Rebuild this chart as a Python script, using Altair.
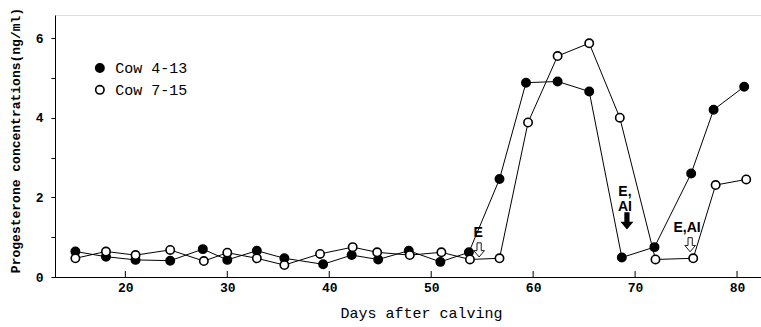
import altair as alt
import pandas as pd

# Cow 4-13 (filled circles)
days_a = [15.1, 18.1, 21.0, 24.4, 27.6, 30.0, 32.9, 35.6, 39.4, 42.2, 44.8, 47.8,
          50.9, 53.7, 56.7, 59.3, 62.4, 65.5, 68.7, 71.9, 75.5, 77.7, 80.7]
prog_a = [0.64, 0.51, 0.43, 0.41, 0.70, 0.43, 0.66, 0.47, 0.32, 0.55, 0.44, 0.66,
          0.38, 0.62, 2.46, 4.88, 4.91, 4.66, 0.49, 0.75, 2.60, 4.20, 4.78]
# Cow 7-15 (open circles)
days_b = [15.1, 18.1, 21.0, 24.4, 27.7, 30.0, 32.9, 35.6, 39.1, 42.3, 44.7, 47.9,
          51.0, 53.8, 56.7, 59.5, 62.4, 65.5, 68.5, 72.0, 75.7, 77.9, 80.9]
prog_b = [0.47, 0.64, 0.55, 0.68, 0.40, 0.61, 0.47, 0.30, 0.58, 0.75, 0.62, 0.55,
          0.62, 0.44, 0.47, 3.88, 5.55, 5.87, 4.00, 0.44, 0.47, 2.31, 2.45]
series = ["Cow 4-13", "Cow 7-15"]

x_ticks = [20, 30, 40, 50, 60, 70, 80]

# legend (placed in data coordinates)
legend_x = [17.5, 17.5]
legend_y = [5.25, 4.70]
legend_text_x = [19.0, 19.0]

# annotations
ann_text = ["E", "E,", "AI", "E,AI"]
ann_x = [54.6, 69.0, 69.0, 75.1]
ann_y = [1.10, 2.14, 1.77, 1.23]
arrow_x = [54.7, 69.2, 75.4]
arrow_y = [0.68, 1.41, 0.81]
arrow_fill = ["hollow", "solid", "hollow"]

rows = []
for d, p in zip(days_a, prog_a):
    rows.append({"day": d, "p": p, "cow": series[0]})
for d, p in zip(days_b, prog_b):
    rows.append({"day": d, "p": p, "cow": series[1]})
df = pd.DataFrame(rows)

xs = alt.Scale(domain=[13.1, 82.35], nice=False, zero=False)
ys = alt.Scale(domain=[0, 6.58], nice=False)

MONO = "Liberation Mono"

x_enc = alt.X("day:Q", scale=xs, title="Days after calving",
              axis=alt.Axis(values=x_ticks, ticks=False, grid=False, domainColor="black",
                            labelFont=MONO, labelFontSize=13, labelFontWeight="bold",
                            labelColor="black", labelPadding=4,
                            titleFont=MONO, titleFontSize=15, titleFontWeight="normal",
                            titleColor="black", titleX=366, titleY=35,
                            titleBaseline="middle"))
y_enc = alt.Y("p:Q", scale=ys, title="Progesterone concentrations(ng/ml)",
              axis=alt.Axis(values=[0, 1, 2, 3, 4, 5, 6], grid=False, tickSize=4,
                            tickColor="black", domainColor="black",
                            labelExpr="datum.value % 2 == 0 ? datum.label : ''",
                            labelFont=MONO, labelFontSize=13, labelFontWeight="bold",
                            labelColor="black", labelPadding=8,
                            titleFont=MONO, titleFontSize=13, titleFontWeight="bold",
                            titleColor="black", titleX=-40, titleY=125,
                            titleBaseline="middle", titleAlign="center", titleAngle=-90))

lines = alt.Chart(df).mark_line(color="black", strokeWidth=1).encode(
    x=x_enc, y=y_enc, detail="cow:N",
    strokeWidth=alt.StrokeWidth("cow:N", scale=alt.Scale(domain=series, range=[1.1, 0.8]), legend=None),
)

fill_scale = alt.Scale(domain=series, range=["black", "white"])

points = alt.Chart(df).mark_point(shape="circle", filled=True, stroke="black",
                                  strokeWidth=1.6, size=70, opacity=1).encode(
    x="day:Q", y="p:Q",
    fill=alt.Fill("cow:N", scale=fill_scale, legend=None),
)

leg_df = pd.DataFrame({"day": legend_x, "p": legend_y, "tx": legend_text_x, "cow": series})
leg_pts = alt.Chart(leg_df).mark_point(shape="circle", filled=True, stroke="black",
                                       strokeWidth=1.6, size=70, opacity=1).encode(
    x="day:Q", y="p:Q", fill=alt.Fill("cow:N", scale=fill_scale, legend=None))
leg_txt = alt.Chart(leg_df).mark_text(font=MONO, fontSize=15, color="black", align="left",
                                      baseline="middle").encode(
    x="tx:Q", y="p:Q", text="cow:N")

# x ticks pointing inward
tick_df = pd.DataFrame({"day": x_ticks})
xticks = alt.Chart(tick_df).mark_rule(color="black", strokeWidth=1).encode(
    x="day:Q", y=alt.value(262), y2=alt.value(256))

ann_df = pd.DataFrame({"day": ann_x, "p": ann_y, "t": ann_text})
texts = alt.Chart(ann_df).mark_text(font="Liberation Sans", fontWeight="bold",
                                    fontSize=14, color="black", baseline="middle").encode(
    x="day:Q", y="p:Q", text="t:N")

ARROW = "M -0.3 -1 L 0.3 -1 L 0.3 0.1 L 0.75 0.1 L 0 1 L -0.75 0.1 L -0.3 0.1 Z"
arr_df = pd.DataFrame({"day": arrow_x, "p": arrow_y, "k": arrow_fill})
arrows_solid = alt.Chart(arr_df).transform_filter("datum.k == 'solid'").mark_point(
    shape=ARROW, filled=True, color="black", size=300, opacity=1).encode(x="day:Q", y="p:Q")
arrows_hollow = alt.Chart(arr_df).transform_filter("datum.k == 'hollow'").mark_point(
    shape=ARROW, filled=False, color="black", size=200, strokeWidth=0.9, opacity=1).encode(
    x="day:Q", y="p:Q")

chart = alt.layer(lines, xticks, points, leg_pts, leg_txt, texts, arrows_solid,
                  arrows_hollow).properties(
    width=706, height=262,
    autosize=alt.AutoSizeParams(type="none"),
    padding={"left": 55, "top": 15, "right": 0, "bottom": 50},
).configure_view(stroke=None).configure(background="white")

chart.save("out.html", embed_options={"renderer": "svg", "actions": False})
